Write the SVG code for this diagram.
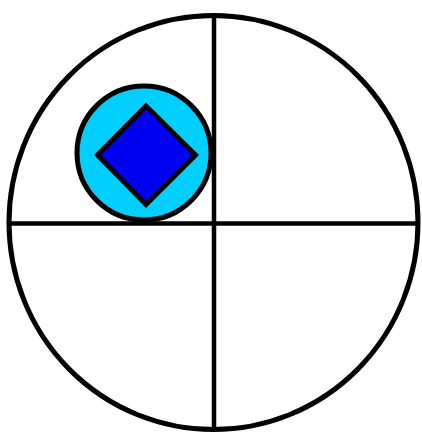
<svg xmlns="http://www.w3.org/2000/svg" width="422" height="433" viewBox="0 0 422 433">
<style>
.k{stroke:#000;fill:none}
</style>
<rect width="422" height="433" fill="#fff"/>
<ellipse id="outer" class="k" cx="213.5" cy="222.5" rx="204.5" ry="207" stroke-width="5"/>
<g id="axes" class="k" stroke-width="4.5">
<line x1="9" y1="223.5" x2="418" y2="223.5"/>
<line x1="214" y1="15" x2="214" y2="430"/>
</g>
<g id="marker">
<circle cx="144" cy="153" r="67" fill="#00CFFF" stroke="#000" stroke-width="5"/>
<polygon points="146,106 195.5,155 146,204.5 97.5,155" fill="#0000F0" stroke="#000" stroke-width="5"/>
</g>
</svg>
